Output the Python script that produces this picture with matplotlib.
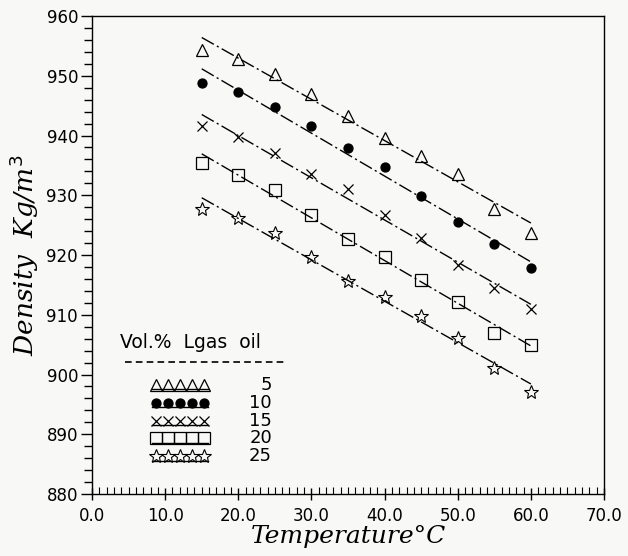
import numpy as np
import matplotlib
matplotlib.use("Agg")
import matplotlib.pyplot as plt
from matplotlib.ticker import MultipleLocator

# temperatures (deg C) and measured densities for each blend
temps = [15, 20, 25, 30, 35, 40, 45, 50, 55, 60]
dens_5 = [954.3, 952.8, 950.3, 946.9, 943.3, 939.6, 936.6, 933.6, 927.7, 923.7]
dens_10 = [948.8, 947.3, 944.8, 941.6, 937.9, 934.7, 929.9, 925.5, 921.8, 917.8]
dens_15 = [941.6, 939.7, 937.1, 933.6, 931.0, 926.7, 922.8, 918.3, 914.5, 911.0]
dens_20 = [935.4, 933.4, 930.9, 926.7, 922.7, 919.7, 915.9, 912.1, 906.9, 904.9]
dens_25 = [927.7, 926.2, 923.7, 919.7, 915.6, 913.0, 909.8, 906.1, 901.1, 897.1]

vol_labels = ["5", "10", "15", "20", "25"]
x_ticks = [0, 10, 20, 30, 40, 50, 60, 70]
y_ticks = [880, 890, 900, 910, 920, 930, 940, 950, 960]

series = [dens_5, dens_10, dens_15, dens_20, dens_25]
markers = [
    dict(marker="^", mfc="none", mec="k", ms=8, mew=0.9),
    dict(marker="o", mfc="k", mec="k", ms=6.5, mew=0.9),
    dict(marker="x", mfc="none", mec="k", ms=6.5, mew=0.9),
    dict(marker="s", mfc="none", mec="k", ms=8, mew=0.9),
    dict(marker="*", mfc="none", mec="k", ms=10, mew=0.8),
]
dash = (0, (10, 2.5, 1.5, 2.5))

fig = plt.figure(figsize=(6.28, 5.56), dpi=100, facecolor="#f8f8f6")
ax = fig.add_axes([0.1465, 0.1115, 0.8153, 0.8597])
ax.set_facecolor("#f8f8f6")

t = np.array(temps, dtype=float)
for dens, mk in zip(series, markers):
    ax.plot(temps, dens, linestyle="none", **mk)
    coef = np.polyfit(t, dens, 1)
    ax.plot(t, np.polyval(coef, t), color="k", lw=1.0, linestyle=dash)

# hand drawn style legend inside the plot
ax.text(3.8, 905.3, "Vol.%  Lgas  oil", fontsize=13.5, va="center", ha="left",
        family="DejaVu Sans")
ax.plot([4.5, 26.3], [902.1, 902.1], color="k", lw=1.2, linestyle=(0, (4, 2.5)))
row_y = [898.3, 895.3, 892.3, 889.3, 886.3]
mk_x = [8.75 + 1.64 * i for i in range(5)]
for yy, lab, mk in zip(row_y, vol_labels, markers):
    ax.plot([mk_x[0] - 0.6, mk_x[-1] + 0.6], [yy - 0.7, yy - 0.7], color="k", lw=1.0)
    ax.plot(mk_x, [yy] * 5, linestyle="none", **mk)
    ax.text(24.6, yy, lab, fontsize=13, ha="right", va="center")

ax.set_xlim(0, 70)
ax.set_ylim(880, 960)
ax.set_xticks(x_ticks)
ax.set_xticklabels([f"{v:.1f}" for v in x_ticks], fontsize=12)
ax.set_yticks(y_ticks)
ax.set_yticklabels([str(v) for v in y_ticks], fontsize=12)
ax.xaxis.set_minor_locator(MultipleLocator(1))
ax.yaxis.set_minor_locator(MultipleLocator(2))
ax.tick_params(axis="x", which="major", direction="inout", length=9, width=1.0, pad=5)
ax.tick_params(axis="x", which="minor", direction="in", length=5, width=0.8)
ax.tick_params(axis="y", which="major", direction="out", length=8, width=1.0, pad=2)
ax.tick_params(axis="y", which="minor", direction="out", length=6, width=1.0)
for s in ax.spines.values():
    s.set_linewidth(1.0)

ax.set_xlabel("Temperature°C", fontsize=18, style="italic", family="DejaVu Serif",
              labelpad=0)
ax.set_ylabel("Density  Kg/m$^3$", fontsize=19, style="italic", family="DejaVu Serif",
              labelpad=4)

fig.savefig("out.png", dpi=100, facecolor=fig.get_facecolor())
